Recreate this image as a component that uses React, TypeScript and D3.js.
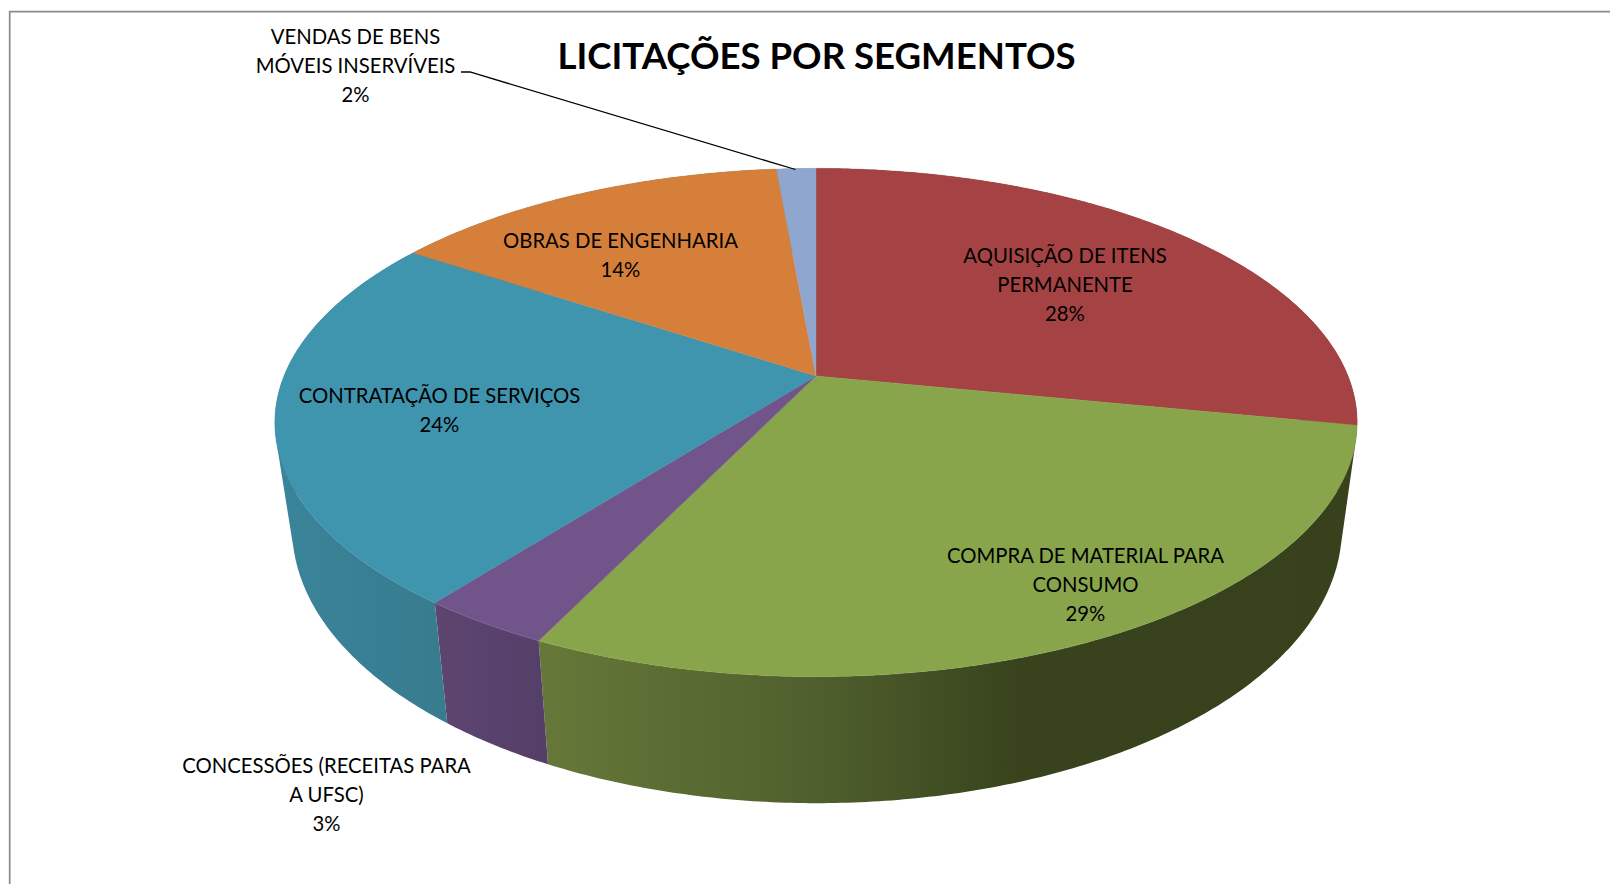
import React from "react";
import * as d3 from "d3";

const categories = [
  "AQUISIÇÃO DE ITENS PERMANENTE",
  "COMPRA DE MATERIAL PARA CONSUMO",
  "CONCESSÕES (RECEITAS PARA A UFSC)",
  "CONTRATAÇÃO DE SERVIÇOS",
  "OBRAS DE ENGENHARIA",
  "VENDAS DE BENS MÓVEIS INSERVÍVEIS",
];
const shares = [28.1, 29.07, 3.33, 23.8, 14.3, 1.4];
const percentLabels = ["28%", "29%", "3%", "24%", "14%", "2%"];
const topColors = ["#a54344", "#88a54c", "#71548a", "#3f94ae", "#d67f3b", "#8fa6cf"];
const labelLines = [
  ["AQUISIÇÃO DE ITENS", "PERMANENTE"],
  ["COMPRA DE MATERIAL PARA", "CONSUMO"],
  ["CONCESSÕES (RECEITAS PARA", "A UFSC)"],
  ["CONTRATAÇÃO DE SERVIÇOS"],
  ["OBRAS DE ENGENHARIA"],
  ["VENDAS DE BENS", "MÓVEIS INSERVÍVEIS"],
];
const labelX = [1065, 1085.5, 326.5, 439.5, 620.5, 355.5];
const labelY = [263, 562.5, 772.5, 402.5, 248, 43.5];

// side wall shading: [x, colour] stops per slice
const wallStops: [number, string][][] = [
  [[1340, "#7a3031"], [1360, "#7a3031"]],
  [[540, "#667839"], [810, "#50602d"], [1020, "#38431d"], [1360, "#37421c"]],
  [[435, "#5d4570"], [550, "#543f69"]],
  [[275, "#3b8499"], [450, "#377b8e"]],
  [[275, "#3b8499"], [450, "#377b8e"]],
  [[275, "#3b8499"], [450, "#377b8e"]],
];

const W = 1610, H = 884;
const cx = 816, apexY = 376, persp = 0.183, kx = 532, ky = 245.6;
const wallXScale = 0.97, wallYScale = 1.083, wallCx = 817, wallApexY = 477.6;

function project(angle: number, wall: boolean): [number, number] {
  const u = Math.sin(angle), v = Math.cos(angle);
  const w = 1 + persp * v;
  return wall
    ? [wallCx + (wallXScale * kx * u) / w, wallApexY - (wallYScale * ky * v) / w]
    : [cx + (kx * u) / w, apexY - (ky * v) / w];
}

const arcsData = d3.pie<number>().sort(null)(shares);
const path = d3.line();

function arcAngles(a0: number, a1: number): number[] {
  const n = Math.max(2, Math.ceil((a1 - a0) / 0.01));
  return d3.range(n + 1).map((i) => a0 + ((a1 - a0) * i) / n);
}

// every strip wound the same way, so that the strips of one slice merge into a single seamless fill
function wallPath(a0: number, a1: number): string {
  const angles = arcAngles(a0, a1);
  return angles
    .slice(1)
    .map((a, k) => {
      const quad = [project(angles[k], false), project(a, false), project(a, true), project(angles[k], true)];
      return path(d3.polygonArea(quad) < 0 ? quad.reverse() : quad) + "Z";
    })
    .join("");
}

export default function App() {
  const font = "Lato, Carlito, sans-serif";
  const lineStep = 29;
  return (
    <svg width={W} height={H} style={{ position: "absolute", left: 0, top: 0, background: "#fff" }}>
      <defs>
        {arcsData.map((d, i) => {
          const x0 = wallStops[i][0][0];
          const x1 = wallStops[i][wallStops[i].length - 1][0];
          return (
            <linearGradient key={i} id={`wall${i}`} gradientUnits="userSpaceOnUse" x1={x0} x2={x1} y1={0} y2={0}>
              {wallStops[i].map(([x, c], j) => (
                <stop key={j} offset={(x - x0) / (x1 - x0)} stopColor={c} />
              ))}
            </linearGradient>
          );
        })}
      </defs>
      <path d="M1610,11.7H9.7V884" fill="none" stroke="#8a8a8a" strokeWidth={1.7} />
      {arcsData.map((d, i) => (
        <path key={i} d={wallPath(d.startAngle, d.endAngle)} fill={`url(#wall${i})`} fillRule="nonzero" />
      ))}
      {arcsData.map((d, i) => {
        const top = arcAngles(d.startAngle, d.endAngle).map((a) => project(a, false));
        return (
          <path key={i} d={path([[cx, apexY], ...top])! + "Z"} fill={topColors[i]} stroke={topColors[i]} strokeWidth={0.4}>
            <title>{categories[i]}</title>
          </path>
        );
      })}
      <path d="M461,72H470L795.5,169.5" fill="none" stroke="#000" strokeWidth={1.3} />
      <text x={816.5} y={69} textAnchor="middle" fontFamily={font} fontWeight={700} fontSize={36.6} fill="#000">
        LICITAÇÕES POR SEGMENTOS
      </text>
      {arcsData.map((d, i) => (
        <text key={i} textAnchor="middle" fontFamily={font} fontSize={20.3} fill="#000">
          {[...labelLines[i], percentLabels[i]].map((t, j) => (
            <tspan key={j} x={labelX[i]} y={labelY[i] + j * lineStep}>
              {t}
            </tspan>
          ))}
        </text>
      ))}
    </svg>
  );
}
